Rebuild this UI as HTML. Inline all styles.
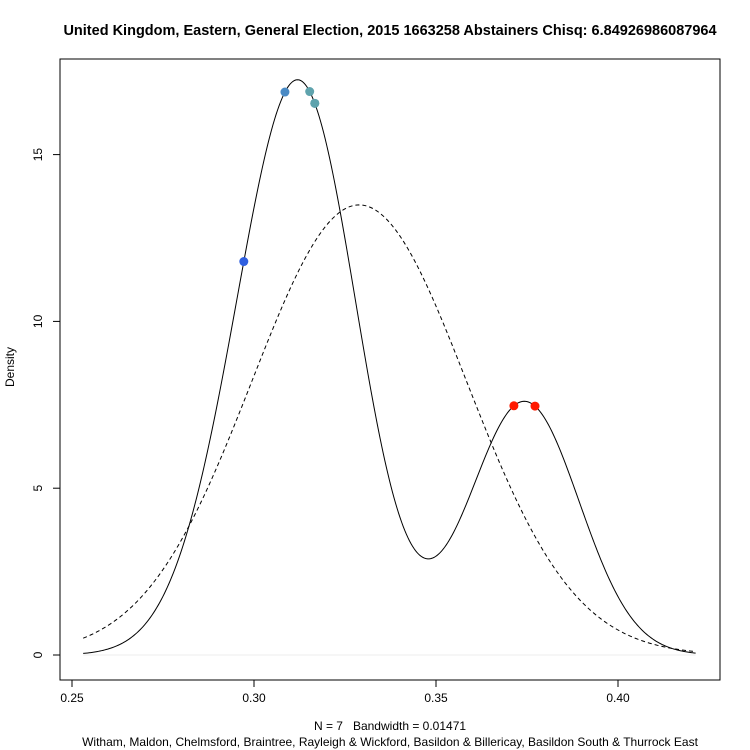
<!DOCTYPE html>
<html><head><meta charset="utf-8"><style>
body{margin:0;background:#fff}
svg{display:block;font-family:"Liberation Sans",Arial,sans-serif}
</style></head><body>
<svg id="c" width="750" height="750">
<rect width="750" height="750" fill="#fff"/>
<text x="390" y="35" text-anchor="middle" font-weight="bold" font-size="14.5">United Kingdom, Eastern, General Election, 2015 1663258 Abstainers Chisq: 6.84926986087964</text>
<rect x="60" y="59" width="660" height="621" fill="none" stroke="#000"/>
<text transform="translate(14,367) rotate(-90)" text-anchor="middle" font-size="12">Density</text>
<text x="390" y="730" text-anchor="middle" font-size="12" style="white-space:pre">N = 7   Bandwidth = 0.01471</text>
<text x="390" y="746" text-anchor="middle" font-size="12">Witham, Maldon, Chelmsford, Braintree, Rayleigh &amp; Wickford, Basildon &amp; Billericay, Basildon South &amp; Thurrock East</text>
<g id="axes"></g><g id="marks"></g>
</svg>
<script>
const values=[0.2972,0.3085,0.3153,0.3167,0.3167,0.3714,0.3772];
const pointColors=["#2f5fe0","#4a8ac4","#5fa3ad","#5fa3ad","#5fa3ad","#ff1a00","#ff1a00"];
const bandwidth=0.01471;
const normalMean=0.3289;
const normalSd=0.02957;
const xTicks=[0.25,0.30,0.35,0.40];
const yTicks=[0,5,10,15];
const NS="http://www.w3.org/2000/svg";
const sx=v=>72+(v-0.25)*3640;
const sy=v=>655-v*33.36;
function mk(t,a,p){const e=document.createElementNS(NS,t);for(const k in a)e.setAttribute(k,a[k]);p.appendChild(e);return e;}
const axes=document.getElementById('axes'),marks=document.getElementById('marks');
mk('line',{x1:sx(xTicks[0]),x2:sx(xTicks[xTicks.length-1]),y1:680,y2:680,stroke:'#000'},axes);
xTicks.forEach(t=>{
 const l=mk('line',{x1:sx(t),x2:sx(t),y1:680,y2:687,stroke:'#000'},axes);
 
 const tx=mk('text',{x:sx(t),y:702,'text-anchor':'middle','font-size':12},axes);tx.textContent=t.toFixed(2);
 
});
mk('line',{x1:60,x2:60,y1:sy(yTicks[0]),y2:sy(yTicks[yTicks.length-1]),stroke:'#000'},axes);
yTicks.forEach(t=>{
 const l=mk('line',{x1:53,x2:60,y1:sy(t),y2:sy(t),stroke:'#000'},axes);
 
 const tx=mk('text',{transform:`translate(42,${sy(t)}) rotate(-90)`,'text-anchor':'middle','font-size':12},axes);tx.textContent=t;
 
});
const n=values.length;
const kde=x=>values.reduce((s,v)=>s+Math.exp(-0.5*((x-v)/bandwidth)**2),0)/(n*bandwidth*Math.sqrt(2*Math.PI));
const norm=x=>Math.exp(-0.5*((x-normalMean)/normalSd)**2)/(normalSd*Math.sqrt(2*Math.PI));
const lo=Math.min(...values)-3*bandwidth,hi=Math.max(...values)+3*bandwidth;
const z=mk('line',{x1:sx(lo),x2:sx(hi),y1:sy(0),y2:sy(0),stroke:'#eee'},marks);

let d1='',d2='';
for(let i=0;i<=400;i++){const x=lo+(hi-lo)*i/400;d1+=(i?'L':'M')+sx(x).toFixed(2)+','+sy(kde(x)).toFixed(2);d2+=(i?'L':'M')+sx(x).toFixed(2)+','+sy(norm(x)).toFixed(2);}
const p2=mk('path',{d:d2,fill:'none',stroke:'#000','stroke-dasharray':'4,3'},marks);

const p1=mk('path',{d:d1,fill:'none',stroke:'#000'},marks);

values.forEach((v,i)=>{
 const c=mk('circle',{cx:sx(v),cy:sy(kde(v)),r:4.5,fill:pointColors[i]},marks);
 
});
</script>
</body></html>
